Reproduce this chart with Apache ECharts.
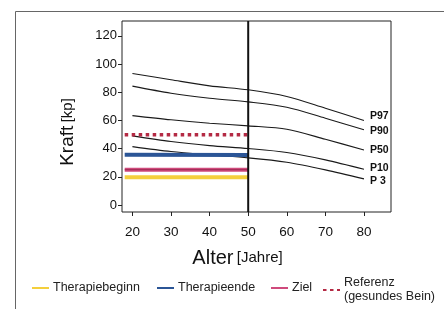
<!DOCTYPE html>
<html>
<head>
<meta charset="utf-8">
<script src="https://cdn.jsdelivr.net/npm/echarts@6/dist/echarts.min.js"></script>
<style>
  html, body { margin: 0; padding: 0; background: #fff; }
  #chart { width: 444px; height: 309px; }
</style>
</head>
<body>
<div id="chart"></div>
<script>
// Alter-Stützstellen der Perzentilkurven
const ages = [20, 30, 40, 50, 60, 70, 80];
const p97 = [93.3, 88.8, 84.5, 81.7, 77.0, 68.6, 59.9];
const p90 = [84.3, 79.3, 75.7, 73.1, 69.3, 61.5, 53.3];
const p50 = [63.4, 60.4, 58.0, 56.1, 53.7, 46.6, 39.0];
const p10 = [49.0, 45.0, 42.1, 40.0, 37.2, 32.0, 25.3];
const p3 = [41.4, 37.9, 35.5, 33.4, 30.3, 24.9, 18.5];

// Patientenwerte (gelten von Beginn bis 50 Jahre)
const bandAges = [18, 50];
const therapiebeginn = [19.6, 19.6];
const therapieende = [35.6, 35.4];
const ziel = [25, 25];
const referenz = [49.8, 49.8];

const xTicks = [20, 30, 40, 50, 60, 70, 80];
const yTicks = [0, 20, 40, 60, 80, 100, 120];

const chart = echarts.init(document.getElementById("chart"), null, { renderer: "canvas" });

const pairs = (xs, ys) => xs.map((x, i) => [x, ys[i]]);

function curve(name, values, offsetY) {
  return {
    name: name,
    type: "line",
    data: pairs(ages, values),
    smooth: 0.3,
    symbol: "none",
    silent: true,
    lineStyle: { color: "#1a1a1a", width: 1.1 },
    endLabel: {
      show: true,
      formatter: name,
      distance: 6,
      offset: [0, offsetY],
      color: "#111",
      fontSize: 10.5,
      fontWeight: "bold",
      fontFamily: "Liberation Sans",
    },
    z: 3,
  };
}

// eine Legende je Eintrag, damit die Abstände wie im Original sitzen
function legendAt(name, left, top, label) {
  return {
    left: left,
    top: top,
    padding: 0,
    itemWidth: 17,
    itemHeight: 8,
    data: [name],
    formatter: () => label,
    itemStyle: { opacity: 0 },
    textStyle: { fontSize: 12.5, color: "#222", padding: [0, 0, 0, -1], lineHeight: 14 },
  };
}

const option = {
  animation: false,
  textStyle: { fontFamily: "Liberation Sans" },
  graphic: [
    {
      type: "rect",
      left: 13,
      top: 9,
      shape: { width: 440, height: 320 },
      style: { fill: "none", stroke: "#666", lineWidth: 1 },
      silent: true,
    },
  ],
  grid: {
    left: 122,
    top: 21,
    width: 269,
    height: 191,
    show: true,
    borderColor: "#222",
    borderWidth: 1,
  },
  legend: [
    legendAt("Therapiebeginn", 31, 281, "Therapiebeginn"),
    legendAt("Therapieende", 156, 281, "Therapieende"),
    legendAt("Ziel", 270, 281, "Ziel"),
    legendAt("Referenz", 322, 276, "Referenz\n(gesundes Bein)"),
  ],
  xAxis: {
    type: "value",
    min: 17.3,
    max: 87,
    name: "{a|Alter} {b|[Jahre]}",
    nameLocation: "middle",
    nameGap: 36,
    nameTextStyle: {
      padding: [0, 38, 0, 0],
      rich: {
        a: { fontSize: 20, color: "#111" },
        b: { fontSize: 15, color: "#111" },
      },
    },
    splitLine: { show: false },
    axisLine: { show: false, onZero: false },
    axisTick: { show: true, customValues: xTicks, length: 4, lineStyle: { color: "#222" } },
    axisLabel: { customValues: xTicks, fontSize: 13.5, color: "#111", margin: 13 },
  },
  yAxis: {
    type: "value",
    min: -5,
    max: 130.5,
    name: "{a|Kraft} {b|[kp]}",
    nameLocation: "middle",
    nameGap: 45,
    nameRotate: 90,
    nameTextStyle: {
      padding: [0, 31, 0, 0],
      rich: {
        a: { fontSize: 19, color: "#111" },
        b: { fontSize: 15, color: "#111" },
      },
    },
    splitLine: { show: false },
    axisLine: { show: false, onZero: false },
    axisTick: { show: true, customValues: yTicks, length: 4, lineStyle: { color: "#222" } },
    axisLabel: { customValues: yTicks, fontSize: 13, color: "#111", margin: 5 },
  },
  series: [
    curve("P97", p97, -4),
    curve("P90", p90, 1),
    curve("P50", p50, 0),
    curve("P10", p10, -1),
    curve("P 3", p3, 2),
    {
      name: "Therapiebeginn",
      type: "line",
      data: pairs(bandAges, therapiebeginn),
      symbol: "none",
      color: "#f4cf3c",
      lineStyle: { color: "#f4cf3c", width: 4 },
      z: 4,
    },
    {
      name: "Therapieende",
      type: "line",
      data: pairs(bandAges, therapieende),
      symbol: "none",
      color: "#2b5596",
      lineStyle: { color: "#2b5596", width: 4 },
      z: 4,
    },
    {
      name: "Ziel",
      type: "line",
      data: pairs(bandAges, ziel),
      symbol: "none",
      color: "#cf4a7c",
      lineStyle: { color: "#cf4a7c", width: 4 },
      z: 4,
    },
    {
      name: "Ziel-Mitte",
      type: "line",
      data: pairs(bandAges, ziel),
      symbol: "none",
      lineStyle: { color: "#8e1f45", width: 0.8 },
      z: 5,
    },
    {
      name: "Referenz",
      type: "line",
      data: pairs(bandAges, referenz),
      symbol: "none",
      color: "#b42a44",
      lineStyle: { color: "#b42a44", width: 3.5, type: [3.5, 3.5] },
      z: 4,
    },
    {
      name: "Grenze",
      type: "line",
      data: [[50, -5], [50, 130.5]],
      symbol: "none",
      lineStyle: { color: "#111", width: 2 },
      z: 6,
    },
  ],
};

chart.setOption(option);
</script>
</body>
</html>
